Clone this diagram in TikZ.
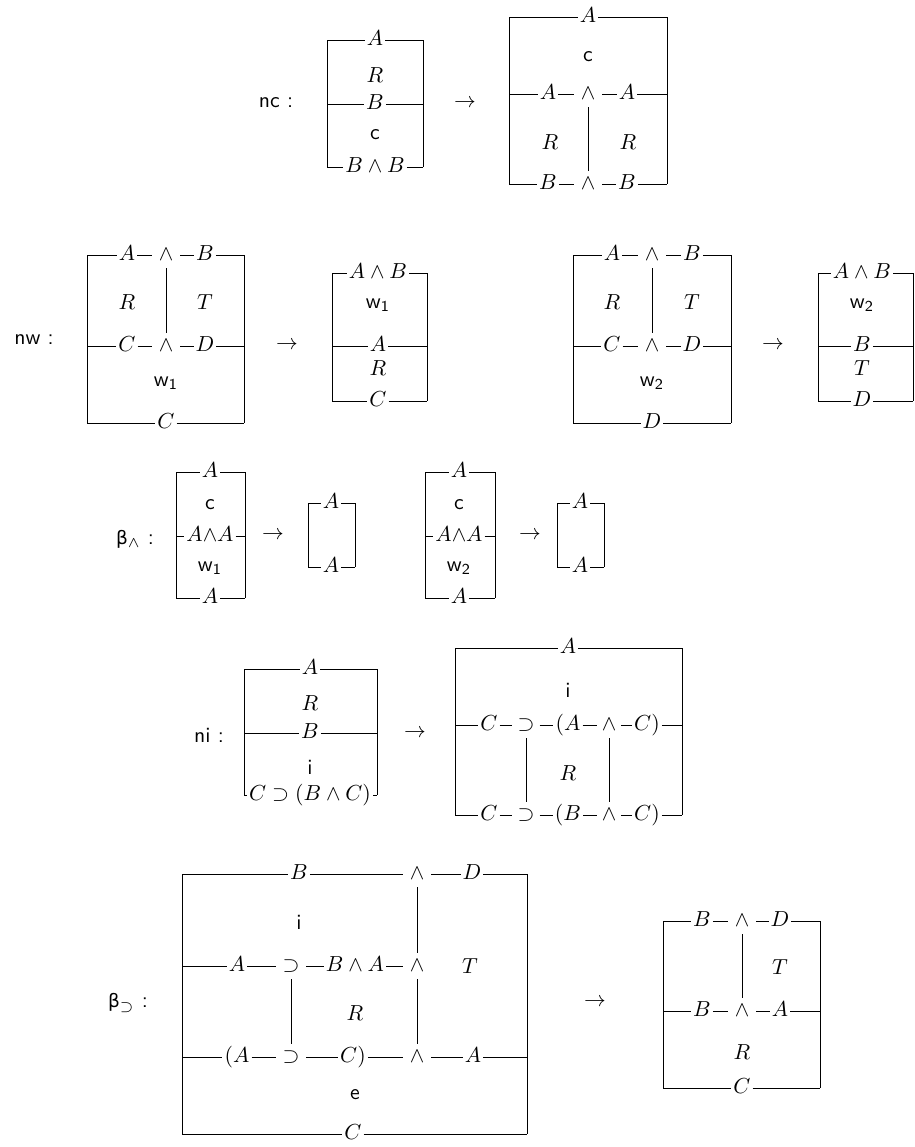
\documentclass[tikz,border=0pt]{standalone}
\usepackage{fontspec}
\newfontfamily\grk{DejaVu Sans}[Scale=0.85]
\begin{document}
\begin{tikzpicture}[x=0.46pt,y=-0.46pt,line width=0.4pt,
  lbl/.style={inner xsep=0.8pt,inner ysep=0pt,text height=1.5ex,text depth=0.25ex},
  op/.style={inner xsep=3pt,inner ysep=2.2pt,text height=1.5ex,text depth=0.25ex},
  opn/.style={op,inner xsep=2.2pt},
  cell/.style={inner sep=0pt},
  tag/.style={inner sep=0pt,font=\sffamily},
  arr/.style={inner sep=0pt}]
\useasboundingbox (0,0) rectangle (915,1147);
% ---------------- nc ----------------
\node[tag] (tnc) at (276,103) {nc :};
\coordinate (a-l1) at (327,40);  \coordinate (a-r1) at (423,40);
\coordinate (a-l2) at (327,104); \coordinate (a-r2) at (423,104);
\coordinate (a-l3) at (327,167); \coordinate (a-r3) at (423,167);
\node[lbl] (a1) at (375,40) {$A$};
\node[cell] (aR) at (375,75) {$R$};
\node[lbl] (a2) at (375,104) {$B$};
\node[cell] (ac) at (375,135) {\textsf{c}};
\node[lbl] (a3) at (375,167) {$B\wedge B$};
\draw (a-l1)--(a1)--(a-r1) (a-l2)--(a2)--(a-r2) (a-l3)--(a3)--(a-r3)
      (a-l1)--(a-l3) (a-r1)--(a-r3);
\node[arr] (arr1) at (465,104) {$\to$};
\coordinate (b-l1) at (509,17);  \coordinate (b-r1) at (667,17);
\coordinate (b-l2) at (509,94);  \coordinate (b-r2) at (667,94);
\coordinate (b-l3) at (509,184); \coordinate (b-r3) at (667,184);
\node[lbl] (b1) at (588,17) {$A$};
\node[cell] (bc) at (588,57) {\textsf{c}};
\node[lbl] (b2a) at (548,94) {$A$};
\node[op] (b2w) at (588,94) {$\wedge$};
\node[lbl] (b2b) at (627,94) {$A$};
\node[cell] (bR1) at (550,142) {$R$};
\node[cell] (bR2) at (628,142) {$R$};
\node[lbl] (b3a) at (548,184) {$B$};
\node[op] (b3w) at (588,184) {$\wedge$};
\node[lbl] (b3b) at (627,184) {$B$};
\draw (b-l1)--(b1)--(b-r1) (b-l2)--(b2a)--(b2w)--(b2b)--(b-r2)
      (b-l3)--(b3a)--(b3w)--(b3b)--(b-r3) (b-l1)--(b-l3) (b-r1)--(b-r3) (b2w)--(b3w);
% ---------------- nw ----------------
\node[tag] (tnw) at (34,340) {nw :};
\coordinate (c-l1) at (87,255);  \coordinate (c-r1) at (244,255);
\coordinate (c-l2) at (87,346);  \coordinate (c-r2) at (244,346);
\coordinate (c-l3) at (87,423);  \coordinate (c-r3) at (244,423);
\node[lbl] (c1a) at (127,255) {$A$};
\node[op] (c1w) at (166,255) {$\wedge$};
\node[lbl] (c1b) at (205,255) {$B$};
\node[cell] (cR) at (127,302) {$R$};
\node[cell] (cT) at (205,302) {$T$};
\node[lbl] (c2a) at (127,346) {$C$};
\node[op] (c2w) at (166,346) {$\wedge$};
\node[lbl] (c2b) at (205,346) {$D$};
\node[cell] (cw) at (166,383) {$\mathsf{w}_{\mathsf{1}}$};
\node[lbl] (c3) at (166,423) {$C$};
\draw (c-l1)--(c1a)--(c1w)--(c1b)--(c-r1) (c-l2)--(c2a)--(c2w)--(c2b)--(c-r2)
      (c-l3)--(c3)--(c-r3) (c-l1)--(c-l3) (c-r1)--(c-r3) (c1w)--(c2w);
\node[arr] (arr2) at (287,346) {$\to$};
\coordinate (d-l1) at (332,273);  \coordinate (d-r1) at (427,273);
\coordinate (d-l2) at (332,346);  \coordinate (d-r2) at (427,346);
\coordinate (d-l3) at (332,401);  \coordinate (d-r3) at (427,401);
\node[lbl] (d1) at (378,273) {$A\wedge B$};
\node[cell] (dw) at (378,305) {$\mathsf{w}_{\mathsf{1}}$};
\node[lbl] (d2) at (378,346) {$A$};
\node[cell] (dR) at (378,368) {$R$};
\node[lbl] (d3) at (378,401) {$C$};
\draw (d-l1)--(d1)--(d-r1) (d-l2)--(d2)--(d-r2) (d-l3)--(d3)--(d-r3)
      (d-l1)--(d-l3) (d-r1)--(d-r3);
\coordinate (e-l1) at (573,255);  \coordinate (e-r1) at (731,255);
\coordinate (e-l2) at (573,346);  \coordinate (e-r2) at (731,346);
\coordinate (e-l3) at (573,423);  \coordinate (e-r3) at (731,423);
\node[lbl] (e1a) at (612,255) {$A$};
\node[op] (e1w) at (652,255) {$\wedge$};
\node[lbl] (e1b) at (692,255) {$B$};
\node[cell] (eR) at (612,302) {$R$};
\node[cell] (eT) at (692,302) {$T$};
\node[lbl] (e2a) at (612,346) {$C$};
\node[op] (e2w) at (652,346) {$\wedge$};
\node[lbl] (e2b) at (692,346) {$D$};
\node[cell] (ew) at (652,383) {$\mathsf{w}_{\mathsf{2}}$};
\node[lbl] (e3) at (652,423) {$D$};
\draw (e-l1)--(e1a)--(e1w)--(e1b)--(e-r1) (e-l2)--(e2a)--(e2w)--(e2b)--(e-r2)
      (e-l3)--(e3)--(e-r3) (e-l1)--(e-l3) (e-r1)--(e-r3) (e1w)--(e2w);
\node[arr] (arr3) at (773,346) {$\to$};
\coordinate (f-l1) at (818,273);  \coordinate (f-r1) at (913,273);
\coordinate (f-l2) at (818,346);  \coordinate (f-r2) at (913,346);
\coordinate (f-l3) at (818,401);  \coordinate (f-r3) at (913,401);
\node[lbl] (f1) at (862,273) {$A\wedge B$};
\node[cell] (fw) at (862,305) {$\mathsf{w}_{\mathsf{2}}$};
\node[lbl] (f2) at (862,346) {$B$};
\node[cell] (fT) at (862,368) {$T$};
\node[lbl] (f3) at (862,401) {$D$};
\draw (f-l1)--(f1)--(f-r1) (f-l2)--(f2)--(f-r2) (f-l3)--(f3)--(f-r3)
      (f-l1)--(f-l3) (f-r1)--(f-r3);
% ---------------- beta wedge ----------------
\node[tag] (tbw) at (135,539) {{\grk β}$_{\wedge}$ :};
\coordinate (g-l1) at (176,472);  \coordinate (g-r1) at (245,472);
\coordinate (g-l2) at (176,536);  \coordinate (g-r2) at (245,536);
\coordinate (g-l3) at (176,598);  \coordinate (g-r3) at (245,598);
\node[lbl] (g1) at (210,472) {$A$};
\node[cell] (gc) at (210,505) {\textsf{c}};
\node[lbl] (g2) at (210,536) {$A{\wedge}A$};
\node[cell] (gw) at (210,568) {$\mathsf{w}_{\mathsf{1}}$};
\node[lbl] (g3) at (210,598) {$A$};
\draw (g-l1)--(g1)--(g-r1) (g-l2)--(g2)--(g-r2) (g-l3)--(g3)--(g-r3)
      (g-l1)--(g-l3) (g-r1)--(g-r3);
\node[arr] (arr4) at (273,536) {$\to$};
\coordinate (h-l1) at (308,503);  \coordinate (h-r1) at (355,503);
\coordinate (h-l2) at (308,567);  \coordinate (h-r2) at (355,567);
\node[lbl] (h1) at (331,503) {$A$};
\node[lbl] (h2) at (331,567) {$A$};
\draw (h-l1)--(h1)--(h-r1) (h-l2)--(h2)--(h-r2) (h-l1)--(h-l2) (h-r1)--(h-r2);
\coordinate (k-l1) at (425,472);  \coordinate (k-r1) at (495,472);
\coordinate (k-l2) at (425,536);  \coordinate (k-r2) at (495,536);
\coordinate (k-l3) at (425,598);  \coordinate (k-r3) at (495,598);
\node[lbl] (k1) at (459,472) {$A$};
\node[cell] (kc) at (459,505) {\textsf{c}};
\node[lbl] (k2) at (459,536) {$A{\wedge}A$};
\node[cell] (kw) at (459,568) {$\mathsf{w}_{\mathsf{2}}$};
\node[lbl] (k3) at (459,598) {$A$};
\draw (k-l1)--(k1)--(k-r1) (k-l2)--(k2)--(k-r2) (k-l3)--(k3)--(k-r3)
      (k-l1)--(k-l3) (k-r1)--(k-r3);
\node[arr] (arr5) at (530,536) {$\to$};
\coordinate (m-l1) at (557,503);  \coordinate (m-r1) at (604,503);
\coordinate (m-l2) at (557,567);  \coordinate (m-r2) at (604,567);
\node[lbl] (m1) at (580,503) {$A$};
\node[lbl] (m2) at (580,567) {$A$};
\draw (m-l1)--(m1)--(m-r1) (m-l2)--(m2)--(m-r2) (m-l1)--(m-l2) (m-r1)--(m-r2);
% ---------------- ni ----------------
\node[tag] (tni) at (209,735) {ni :};
\coordinate (n-l1) at (244,669);  \coordinate (n-r1) at (377,669);
\coordinate (n-l2) at (244,733);  \coordinate (n-r2) at (377,733);
\coordinate (n-l3) at (244,795);  \coordinate (n-r3) at (377,795);
\node[lbl] (n1) at (310,669) {$A$};
\node[cell] (nR) at (310,703) {$R$};
\node[lbl] (n2) at (310,733) {$B$};
\node[cell] (ni) at (310,767) {\textsf{i}};
\node[lbl] (n3) at (310,795) {$C\supset(B\wedge C)$};
\draw (n-l1)--(n1)--(n-r1) (n-l2)--(n2)--(n-r2) (n-l3)--(n3)--(n-r3)
      (n-l1)--(n-l3) (n-r1)--(n-r3);
\node[arr] (arr6) at (415,733) {$\to$};
\coordinate (p-l1) at (455,648);  \coordinate (p-r1) at (682,648);
\coordinate (p-l2) at (455,725);  \coordinate (p-r2) at (682,725);
\coordinate (p-l3) at (455,815);  \coordinate (p-r3) at (682,815);
\node[lbl] (p1) at (568,648) {$A$};
\node[cell] (pi) at (568,690) {\textsf{i}};
\node[lbl] (p2a) at (489,725) {$C$};
\node[opn] (p2s) at (526,725) {$\supset$};
\node[lbl] (p2b) at (568,725) {$(A$};
\node[opn] (p2w) at (609,725) {$\wedge$};
\node[lbl] (p2c) at (647,725) {$C)$};
\node[cell] (pR) at (568,773) {$R$};
\node[lbl] (p3a) at (489,815) {$C$};
\node[opn] (p3s) at (526,815) {$\supset$};
\node[lbl] (p3b) at (568,815) {$(B$};
\node[opn] (p3w) at (609,815) {$\wedge$};
\node[lbl] (p3c) at (647,815) {$C)$};
\draw (p-l1)--(p1)--(p-r1)
      (p-l2)--(p2a)--(p2s)--(p2b)--(p2w)--(p2c)--(p-r2)
      (p-l3)--(p3a)--(p3s)--(p3b)--(p3w)--(p3c)--(p-r3)
      (p-l1)--(p-l3) (p-r1)--(p-r3) (p2s)--(p3s) (p2w)--(p3w);
% ---------------- beta supset ----------------
\node[tag] (tbs) at (128,1003) {{\grk β}$_{\supset}$ :};
\coordinate (q-l1) at (182,874);  \coordinate (q-r1) at (527,874);
\coordinate (q-l2) at (182,966);
\coordinate (q-l3) at (182,1057); \coordinate (q-r3) at (527,1057);
\coordinate (q-l4) at (182,1134); \coordinate (q-r4) at (527,1134);
\node[lbl] (q1a) at (299,874) {$B$};
\node[op] (q1w) at (417,874) {$\wedge$};
\node[lbl] (q1b) at (472,874) {$D$};
\node[cell] (qi) at (299,922) {\textsf{i}};
\node[lbl] (q2a) at (237,966) {$A$};
\node[op] (q2s) at (291,966) {$\supset$};
\node[lbl] (q2b) at (355,966) {$B\wedge A$};
\node[op] (q2w) at (417,966) {$\wedge$};
\node[cell] (qT) at (470,966) {$T$};
\node[cell] (qR) at (355,1013) {$R$};
\node[lbl] (q3a) at (237,1057) {$(A$};
\node[op] (q3s) at (291,1057) {$\supset$};
\node[lbl] (q3b) at (353,1057) {$C)$};
\node[op] (q3w) at (417,1057) {$\wedge$};
\node[lbl] (q3c) at (473,1057) {$A$};
\node[cell] (qe) at (355,1095) {\textsf{e}};
\node[lbl] (q4) at (353,1134) {$C$};
\draw (q-l1)--(q1a)--(q1w)--(q1b)--(q-r1)
      (q-l2)--(q2a)--(q2s)--(q2b)--(q2w)
      (q-l3)--(q3a)--(q3s)--(q3b)--(q3w)--(q3c)--(q-r3)
      (q-l4)--(q4)--(q-r4)
      (q-l1)--(q-l4) (q-r1)--(q-r4)
      (q1w)--(q2w) (q2w)--(q3w) (q2s)--(q3s);
\node[arr] (arr7) at (595,1002) {$\to$};
\coordinate (r-l1) at (663,921);  \coordinate (r-r1) at (820,921);
\coordinate (r-l2) at (663,1011); \coordinate (r-r2) at (820,1011);
\coordinate (r-l3) at (663,1088); \coordinate (r-r3) at (820,1088);
\node[lbl] (r1a) at (702,921) {$B$};
\node[op] (r1w) at (742,921) {$\wedge$};
\node[lbl] (r1b) at (780,921) {$D$};
\node[cell] (rT) at (780,967) {$T$};
\node[lbl] (r2a) at (702,1011) {$B$};
\node[op] (r2w) at (742,1011) {$\wedge$};
\node[lbl] (r2b) at (780,1011) {$A$};
\node[cell] (rR) at (742,1052) {$R$};
\node[lbl] (r3) at (742,1088) {$C$};
\draw (r-l1)--(r1a)--(r1w)--(r1b)--(r-r1)
      (r-l2)--(r2a)--(r2w)--(r2b)--(r-r2)
      (r-l3)--(r3)--(r-r3)
      (r-l1)--(r-l3) (r-r1)--(r-r3) (r1w)--(r2w);
\end{tikzpicture}
\end{document}
